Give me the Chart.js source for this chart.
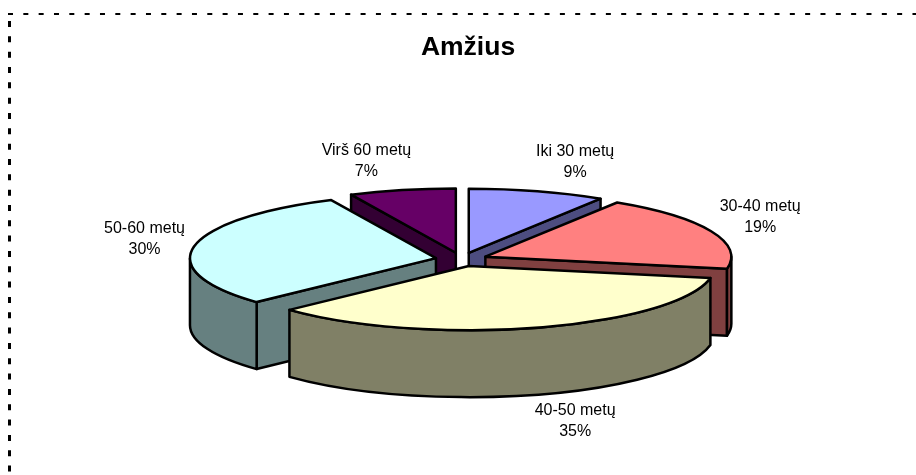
<!DOCTYPE html>
<html>
<head>
<meta charset="utf-8">
<title>Amžius</title>
<script src="https://cdn.jsdelivr.net/npm/chart.js@4/dist/chart.umd.js"></script>
<style>
  html, body { margin: 0; padding: 0; background: #fff; overflow: hidden; }
  canvas { display: block; }
</style>
</head>
<body>
<canvas id="chart" width="936" height="475"></canvas>
<script>
const categories = ['Iki 30 metų', '30-40 metų', '40-50 metų', '50-60 metų', 'Virš 60 metų'];
const shares = [9, 19, 35, 30, 7];
const topColors = ['#9999FF', '#FF8080', '#FFFFCC', '#CCFFFF', '#660066'];

const FONT = '"Liberation Sans", Arial, sans-serif';
const SQUASH = 0.261;   // vertical flattening of the pie
const DEPTH = 67;       // height of the extruded wall
const PIE_SHIFT = -6.5; // the plot sits a little left of the title

// same hue at half brightness, the way the walls are shaded
function shade(hex) {
  const n = parseInt(hex.slice(1), 16);
  const half = (v) => Math.round(v / 2);
  return `rgb(${half(n >> 16)},${half((n >> 8) & 255)},${half(n & 255)})`;
}

function apexOf(el) {
  const { x, y, startAngle, endAngle } = el.getProps(['x', 'y', 'startAngle', 'endAngle'], true);
  const mid = (startAngle + endAngle) / 2;
  const off = el.options.offset;
  return { x: x + PIE_SHIFT + Math.cos(mid) * off, y: y + Math.sin(mid) * off * SQUASH, mid };
}

class Arc3D extends Chart.ArcElement {
  static id = 'arc3d';

  draw(ctx) {
    const { startAngle: a, endAngle: b, outerRadius: rx } = this.getProps(['startAngle', 'endAngle', 'outerRadius'], true);
    const { x: px, y: py } = apexOf(this);
    const ry = rx * SQUASH;
    const o = this.options;
    const edge = (t) => [px + Math.cos(t) * rx, py + Math.sin(t) * ry];

    ctx.save();
    ctx.lineWidth = o.borderWidth;
    ctx.strokeStyle = o.borderColor;
    ctx.lineJoin = 'round';

    const paint = (fill) => {
      ctx.fillStyle = fill;
      ctx.fill();
      ctx.stroke();
    };
    const wall = (t) => {
      const [ex, ey] = edge(t);
      ctx.beginPath();
      ctx.moveTo(px, py);
      ctx.lineTo(ex, ey);
      ctx.lineTo(ex, ey + DEPTH);
      ctx.lineTo(px, py + DEPTH);
      ctx.closePath();
      paint(shade(o.backgroundColor));
    };

    // cut faces, only where they turn towards the viewer
    if (Math.cos(a) < -0.001) wall(a);
    if (Math.cos(b) > 0.001) wall(b);

    // rim: the part of the arc on the front half of the ellipse
    for (const shift of [0, 2 * Math.PI]) {
      const from = Math.max(a, shift);
      const to = Math.min(b, shift + Math.PI);
      if (to > from) {
        ctx.beginPath();
        ctx.ellipse(px, py, rx, ry, 0, from, to);
        ctx.ellipse(px, py + DEPTH, rx, ry, 0, to, from, true);
        ctx.closePath();
        paint(shade(o.backgroundColor));
      }
    }

    ctx.beginPath();
    ctx.moveTo(px, py);
    ctx.ellipse(px, py, rx, ry, 0, a, b);
    ctx.closePath();
    paint(o.backgroundColor);
    ctx.restore();
  }
}

class Pie3DController extends Chart.PieController {
  static id = 'pie3d';
  static defaults = { dataElementType: 'arc3d' };

  // back slices first so the front ones cover them
  draw() {
    const ctx = this._ctx;
    const area = this.chart.chartArea;
    [...this._cachedMeta.data]
      .sort((p, q) => apexOf(p).y - apexOf(q).y)
      .forEach((el) => el.draw(ctx, area));
  }
}

Chart.register(Arc3D, Pie3DController);

const framePlugin = {
  id: 'frame',
  beforeDraw(chart) {
    const ctx = chart.ctx;
    ctx.save();
    ctx.strokeStyle = '#000';
    ctx.setLineDash([5, 10.33]);
    ctx.lineWidth = 2;
    ctx.beginPath();
    ctx.moveTo(8, 14);
    ctx.lineTo(936, 14);
    ctx.stroke();
    ctx.lineWidth = 3;
    ctx.setLineDash([6, 9.33]);
    ctx.beginPath();
    ctx.moveTo(9.5, 21);
    ctx.lineTo(9.5, 475);
    ctx.stroke();
    ctx.restore();
  },
};

const sliceLabels = {
  id: 'sliceLabels',
  afterDatasetsDraw(chart) {
    const ctx = chart.ctx;
    const arcs = chart.getDatasetMeta(0).data;
    ctx.save();
    ctx.fillStyle = '#000';
    ctx.font = '16px ' + FONT;
    ctx.textAlign = 'center';
    ctx.textBaseline = 'middle';
    arcs.forEach((el, i) => {
      const { x, y, mid } = apexOf(el);
      const rx = el.outerRadius;
      const c = Math.cos(mid);
      const s = Math.sin(mid);
      const ex = x + c * rx;
      const ey = y + s * rx * SQUASH + (s > 0 ? DEPTH - 2 : 0);
      const lx = ex + Math.sign(c) * 50 * Math.pow(Math.abs(c), 0.22);
      const ly = ey + Math.sign(s) * 30 * Math.pow(Math.abs(s), 0.85);
      ctx.fillText(categories[i], lx, ly - 10.5);
      ctx.fillText(shares[i] + '%', lx, ly + 10.5);
    });
    ctx.restore();
  },
};

new Chart(document.getElementById('chart'), {
  type: 'pie3d',
  data: {
    labels: categories,
    datasets: [{
      data: shares,
      backgroundColor: topColors,
      borderColor: '#000',
      borderWidth: 2.5,
      offset: 26,
      radius: 246,
    }],
  },
  options: {
    responsive: false,
    maintainAspectRatio: false,
    animation: false,
    events: [],
    layout: { padding: { bottom: 20 } },
    plugins: {
      legend: { display: false },
      tooltip: { enabled: false },
      title: {
        display: true,
        text: 'Amžius',
        color: '#000',
        font: { family: FONT, size: 26.5, weight: 'bold' },
        padding: { top: 32, bottom: 0 },
      },
    },
  },
  plugins: [framePlugin, sliceLabels],
});
</script>
</body>
</html>
